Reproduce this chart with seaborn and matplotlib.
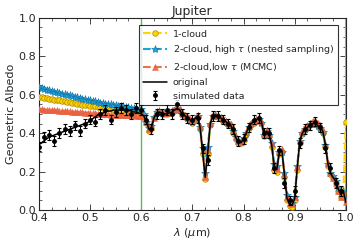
import numpy as np
import matplotlib
matplotlib.use("Agg")
import matplotlib.pyplot as plt
from matplotlib.ticker import MultipleLocator
import seaborn as sns

# wavelength grid of the model spectra (0.400 ... 1.000 um, 0.005 step)
wavelength = np.linspace(0.4, 1.0, 121)

original = [
    0.34, 0.35, 0.36, 0.37, 0.38, 0.385, 0.39, 0.395, 0.40, 0.405,
    0.41, 0.415, 0.42, 0.425, 0.43, 0.435, 0.44, 0.445, 0.45, 0.455,
    0.465, 0.475, 0.485, 0.495, 0.50, 0.505, 0.51, 0.515, 0.515, 0.52,
    0.52, 0.52, 0.52, 0.52, 0.52, 0.52, 0.515, 0.51, 0.51, 0.505,
    0.50, 0.49, 0.46, 0.42, 0.43, 0.48, 0.505, 0.51, 0.505, 0.50,
    0.50, 0.505, 0.51, 0.52, 0.53, 0.52, 0.50, 0.49, 0.485, 0.47,
    0.46, 0.475, 0.49, 0.43, 0.30, 0.17, 0.30, 0.45, 0.49, 0.495,
    0.49, 0.48, 0.47, 0.46, 0.45, 0.44, 0.41, 0.375, 0.355, 0.35,
    0.37, 0.40, 0.43, 0.45, 0.46, 0.47, 0.48, 0.46, 0.39, 0.41,
    0.39, 0.34, 0.22, 0.21, 0.30, 0.31, 0.18, 0.06, 0.03, 0.025,
    0.06, 0.22, 0.36, 0.40, 0.42, 0.43, 0.445, 0.45, 0.45, 0.44,
    0.43, 0.41, 0.34, 0.24, 0.19, 0.17, 0.15, 0.11, 0.08, 0.10,
    0.04,
]

one_cloud = [
    0.590, 0.587, 0.585, 0.582, 0.580, 0.577, 0.575, 0.572, 0.570, 0.567,
    0.565, 0.562, 0.560, 0.558, 0.555, 0.553, 0.551, 0.549, 0.547, 0.545,
    0.543, 0.541, 0.539, 0.537, 0.535, 0.533, 0.531, 0.530, 0.528, 0.527,
    0.525, 0.523, 0.522, 0.520, 0.519, 0.517, 0.516, 0.515, 0.513, 0.512,
    0.505, 0.49, 0.455, 0.41, 0.425, 0.48, 0.505, 0.51, 0.50, 0.50,
    0.50, 0.505, 0.51, 0.52, 0.525, 0.515, 0.50, 0.485, 0.48, 0.465,
    0.455, 0.47, 0.485, 0.42, 0.29, 0.16, 0.29, 0.44, 0.49, 0.49,
    0.485, 0.475, 0.465, 0.455, 0.445, 0.435, 0.40, 0.37, 0.35, 0.35,
    0.365, 0.395, 0.425, 0.445, 0.455, 0.465, 0.47, 0.455, 0.385, 0.40,
    0.385, 0.33, 0.21, 0.20, 0.29, 0.30, 0.17, 0.05, 0.02, 0.015,
    0.05, 0.21, 0.35, 0.395, 0.415, 0.425, 0.44, 0.445, 0.445, 0.435,
    0.42, 0.40, 0.33, 0.23, 0.185, 0.165, 0.14, 0.10, 0.07, 0.09,
    0.46,
]

two_cloud_high = [
    0.638, 0.634, 0.630, 0.627, 0.623, 0.620, 0.616, 0.613, 0.609, 0.606,
    0.602, 0.599, 0.596, 0.592, 0.589, 0.586, 0.583, 0.580, 0.577, 0.574,
    0.571, 0.568, 0.565, 0.562, 0.559, 0.557, 0.554, 0.552, 0.550, 0.547,
    0.545, 0.543, 0.541, 0.539, 0.537, 0.535, 0.533, 0.531, 0.529, 0.527,
    0.525, 0.50, 0.46, 0.425, 0.435, 0.485, 0.51, 0.515, 0.505, 0.505,
    0.505, 0.51, 0.515, 0.52, 0.53, 0.52, 0.50, 0.49, 0.48, 0.465,
    0.46, 0.475, 0.49, 0.43, 0.32, 0.19, 0.33, 0.45, 0.49, 0.495,
    0.49, 0.48, 0.47, 0.46, 0.45, 0.44, 0.41, 0.38, 0.36, 0.36,
    0.375, 0.40, 0.43, 0.45, 0.46, 0.47, 0.475, 0.455, 0.39, 0.41,
    0.39, 0.35, 0.24, 0.23, 0.30, 0.30, 0.19, 0.08, 0.04, 0.035,
    0.07, 0.23, 0.36, 0.40, 0.42, 0.43, 0.445, 0.445, 0.445, 0.435,
    0.425, 0.405, 0.34, 0.24, 0.195, 0.175, 0.15, 0.115, 0.085, 0.10,
    0.05,
]

two_cloud_low = [
    0.525, 0.524, 0.523, 0.522, 0.521, 0.520, 0.519, 0.518, 0.517, 0.516,
    0.515, 0.514, 0.513, 0.512, 0.511, 0.510, 0.509, 0.508, 0.507, 0.506,
    0.505, 0.504, 0.503, 0.502, 0.501, 0.500, 0.499, 0.498, 0.497, 0.496,
    0.495, 0.495, 0.494, 0.494, 0.493, 0.493, 0.492, 0.492, 0.491, 0.491,
    0.49, 0.485, 0.46, 0.42, 0.43, 0.48, 0.51, 0.515, 0.51, 0.505,
    0.505, 0.51, 0.515, 0.525, 0.535, 0.525, 0.505, 0.495, 0.49, 0.475,
    0.465, 0.48, 0.495, 0.435, 0.31, 0.17, 0.31, 0.455, 0.495, 0.50,
    0.495, 0.485, 0.475, 0.465, 0.455, 0.445, 0.415, 0.38, 0.36, 0.355,
    0.375, 0.405, 0.435, 0.455, 0.465, 0.475, 0.485, 0.465, 0.395, 0.415,
    0.395, 0.345, 0.225, 0.215, 0.305, 0.315, 0.185, 0.065, 0.035, 0.03,
    0.065, 0.225, 0.365, 0.41, 0.43, 0.44, 0.455, 0.465, 0.47, 0.455,
    0.44, 0.415, 0.345, 0.245, 0.19, 0.165, 0.14, 0.10, 0.07, 0.09,
    0.04,
]

# simulated observations with error bars
data_wl = [
    0.40, 0.41, 0.42, 0.43, 0.44, 0.45, 0.46, 0.47, 0.48, 0.49,
    0.50, 0.51, 0.52, 0.53, 0.54, 0.55, 0.56, 0.57, 0.58, 0.59,
    0.60, 0.61, 0.62, 0.63, 0.64, 0.65, 0.66, 0.67, 0.68, 0.69,
    0.70, 0.71, 0.72, 0.73, 0.74, 0.75, 0.76, 0.77, 0.78, 0.79,
    0.80, 0.81, 0.82, 0.83, 0.84, 0.85, 0.86, 0.87, 0.88, 0.89,
    0.90, 0.91, 0.92, 0.93, 0.94, 0.95, 0.96, 0.97, 0.98, 0.99,
]
data_albedo = [
    0.33, 0.38, 0.39, 0.36, 0.40, 0.42, 0.41, 0.44, 0.41, 0.45,
    0.47, 0.46, 0.50, 0.52, 0.47, 0.51, 0.53, 0.52, 0.50, 0.53,
    0.52, 0.47, 0.42, 0.50, 0.50, 0.52, 0.50, 0.55, 0.50, 0.48,
    0.47, 0.48, 0.32, 0.26, 0.49, 0.49, 0.47, 0.45, 0.42, 0.36,
    0.37, 0.43, 0.47, 0.48, 0.40, 0.40, 0.22, 0.31, 0.14, 0.05,
    0.10, 0.35, 0.42, 0.44, 0.46, 0.43, 0.32, 0.22, 0.14, 0.10,
]
data_err = 0.025

sns.set_style("ticks", {"xtick.direction": "in", "ytick.direction": "in"})
plt.rcParams["font.family"] = ["DejaVu Sans"]

fig = plt.figure(figsize=(3.61, 2.45), dpi=100)
ax = fig.add_axes([0.108, 0.143, 0.850, 0.784])

ax.axvline(0.6, color="#5cb85c", lw=1.0, zorder=1)
ax.axvline(0.4, color="#aaaaaa", lw=1.5, zorder=1)
ax.axvline(1.0, color="#aaaaaa", lw=1.5, zorder=1)

sns.lineplot(x=wavelength, y=one_cloud, ax=ax, color="#ffd400", linestyle="--",
             lw=1.5, marker="o", markersize=4, markerfacecolor="#ffd400",
             markeredgecolor="#b08a00", markeredgewidth=0.5, label="1-cloud", zorder=3)
sns.lineplot(x=wavelength, y=two_cloud_high, ax=ax, color="#1ea3e0", linestyle="--",
             lw=1.5, marker="*", markersize=6, markeredgecolor="#1070a0",
             markeredgewidth=0.4, label=r"2-cloud, high $\tau$ (nested sampling)", zorder=3)
sns.lineplot(x=wavelength, y=two_cloud_low, ax=ax, color="#e8623f", linestyle="--",
             lw=1.5, marker="^", markersize=4, markeredgecolor="#e8623f",
             markeredgewidth=0.4, alpha=0.9, label=r"2-cloud,low $\tau$ (MCMC)", zorder=3)
sns.lineplot(x=wavelength, y=original, ax=ax, color="black", lw=1.1,
             label="original", zorder=4)
ax.errorbar(data_wl, data_albedo, yerr=data_err, fmt="o", color="black",
            markersize=2.5, elinewidth=0.8, capsize=1.5, capthick=0.8,
            label="simulated data", zorder=5)

ax.set_xlim(0.4, 1.0)
ax.set_ylim(0.0, 1.0)
ax.xaxis.set_major_locator(MultipleLocator(0.1))
ax.yaxis.set_major_locator(MultipleLocator(0.2))
ax.xaxis.set_minor_locator(MultipleLocator(0.025))
ax.yaxis.set_minor_locator(MultipleLocator(0.05))
ax.tick_params(which="both", top=True, right=True, direction="in", labelsize=8, pad=2)
ax.tick_params(which="major", length=4, width=0.6)
ax.tick_params(which="minor", length=2, width=0.5)
for s in ax.spines.values():
    s.set_linewidth(0.8)

ax.set_title("Jupiter", fontsize=9, pad=1)
ax.set_xlabel(r"$\lambda$ ($\mu$m)", fontsize=8, labelpad=2)
ax.set_ylabel("Geometric Albedo", fontsize=8, labelpad=2)

leg = ax.legend(loc="upper right", bbox_to_anchor=(0.99, 0.985), fontsize=6.8,
                numpoints=1, handlelength=2.5, frameon=True, fancybox=False,
                borderpad=0.45, labelspacing=0.5, handletextpad=0.6)
leg.get_frame().set_edgecolor("black")
leg.get_frame().set_linewidth(0.8)

fig.savefig("out.png", dpi=100)
